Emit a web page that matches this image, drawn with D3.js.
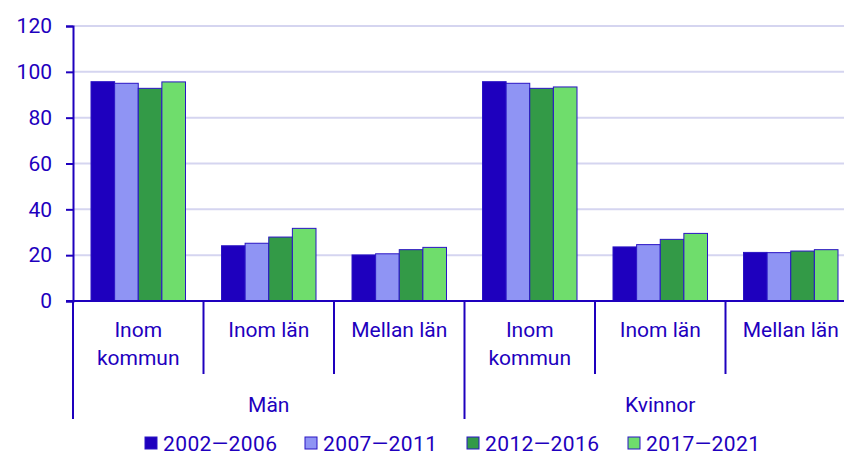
<!DOCTYPE html>
<html>
<head>
<meta charset="utf-8">
<script src="https://cdn.jsdelivr.net/npm/d3@7"></script>
<style>
  body { margin: 0; background: #fff; }
  svg text { font-family: Roboto, "Noto Sans", sans-serif; fill: #1e00be; }
</style>
</head>
<body>
<div id="chart"></div>
<script>
// categories
var genders = ["Män", "Kvinnor"];
var places = [["Inom", "kommun"], ["Inom län"], ["Mellan län"]];
var periods = ["2002\u20142006", "2007\u20142011", "2012\u20142016", "2017\u20142021"];
var colors = ["#1e00be", "#8f94f4", "#339a47", "#6fdd6c"];
var yTicks = [0, 20, 40, 60, 80, 100, 120];

// values per period, groups in order: Män (kommun, län, mellan), Kvinnor (kommun, län, mellan)
var p2002 = [95.7, 24.1, 20.1, 95.7, 23.6, 21.2];
var p2007 = [95.0, 25.2, 20.6, 95.0, 24.6, 21.1];
var p2012 = [92.8, 27.9, 22.4, 92.8, 26.9, 21.8];
var p2017 = [95.6, 31.7, 23.4, 93.4, 29.5, 22.4];
var series = [p2002, p2007, p2012, p2017];

var width = 844, height = 455;
var mLeft = 73, mRight = 856, mTop = 26, mBottom = 301;
var fontSize = 21;

var svg = d3.select("#chart").append("svg")
    .attr("width", width)
    .attr("height", height);

var groups = d3.range(6);
var x0 = d3.scaleBand().domain(groups).range([mLeft, mRight]);
var x1 = d3.scaleBand().domain(d3.range(4)).range([18, x0.bandwidth() - 18]);
var y = d3.scaleLinear().domain([0, 120]).range([mBottom, mTop]);

// gridlines
svg.selectAll(".grid")
    .data(yTicks.filter(function (d) { return d > 0; }))
    .enter().append("line")
    .attr("x1", mLeft).attr("x2", width)
    .attr("y1", function (d) { return y(d); })
    .attr("y2", function (d) { return y(d); })
    .attr("stroke", "#d5d5f0")
    .attr("stroke-width", 2);

// bars
series.forEach(function (vals, s) {
    svg.selectAll(".bar" + s)
        .data(vals)
        .enter().append("rect")
        .attr("x", function (d, i) { return x0(i) + x1(s); })
        .attr("width", x1.bandwidth())
        .attr("y", function (d) { return y(d); })
        .attr("height", function (d) { return mBottom - y(d); })
        .attr("fill", colors[s])
        .attr("stroke", "#2a14c4")
        .attr("stroke-width", 1);
});

// y axis
var yAxis = d3.axisLeft(y).tickValues(yTicks).tickSize(7).tickPadding(14);
var ya = svg.append("g").attr("transform", "translate(" + mLeft + ",0)").call(yAxis);
ya.select(".domain").attr("stroke", "#1e00be").attr("stroke-width", 2);
ya.selectAll(".tick line").attr("stroke", "#1e00be").attr("stroke-width", 2);
ya.selectAll(".tick text").attr("font-size", fontSize).attr("fill", "#1e00be").style("font-family", "Roboto");

// baseline
svg.append("line")
    .attr("x1", mLeft - 7).attr("x2", width)
    .attr("y1", mBottom).attr("y2", mBottom)
    .attr("stroke", "#1e00be").attr("stroke-width", 2);

// group separators
groups.forEach(function (g) {
    var outer = (g % 3 === 0);
    svg.append("line")
        .attr("x1", x0(g)).attr("x2", x0(g))
        .attr("y1", mBottom).attr("y2", outer ? 419 : 374)
        .attr("stroke", "#1e00be").attr("stroke-width", 2);
});

// category labels
groups.forEach(function (g) {
    var lines = places[g % 3];
    var cx = x0(g) + x0.bandwidth() / 2;
    var t = svg.append("text")
        .attr("text-anchor", "middle")
        .attr("font-size", fontSize)
        .attr("x", cx)
        .attr("y", 337);
    lines.forEach(function (l, i) {
        t.append("tspan")
            .attr("x", cx)
            .attr("dy", i === 0 ? 0 : 28)
            .text(l);
    });
});

// gender labels
genders.forEach(function (name, i) {
    svg.append("text")
        .attr("text-anchor", "middle")
        .attr("font-size", fontSize)
        .attr("x", x0(i * 3) + x0.bandwidth() * 1.5)
        .attr("y", 412)
        .text(name);
});

// legend
var legendX = [145, 305, 467, 628];
periods.forEach(function (p, i) {
    svg.append("rect")
        .attr("x", legendX[i]).attr("y", 437)
        .attr("width", 12).attr("height", 12)
        .attr("fill", colors[i])
        .attr("stroke", "#2a14c4").attr("stroke-width", 1);
    svg.append("text")
        .attr("x", legendX[i] + 18)
        .attr("y", 450.5)
        .attr("font-size", fontSize)
        .attr("letter-spacing", 0.4)
        .text(p);
});
</script>
</body>
</html>
